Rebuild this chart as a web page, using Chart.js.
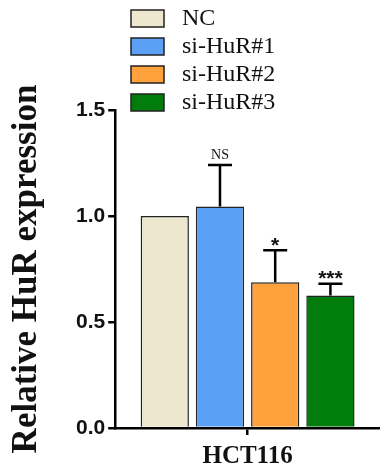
<!DOCTYPE html>
<html>
<head>
<meta charset="utf-8">
<script src="https://cdn.jsdelivr.net/npm/chart.js@4"></script>
<style>
  html, body { margin: 0; padding: 0; background: #fff; }
  #wrap { width: 380px; height: 473px; }
</style>
</head>
<body>
<div id="wrap"><canvas id="chart"></canvas></div>
<script>
const categories = ['HCT116'];
const groups = ['NC', 'si-HuR#1', 'si-HuR#2', 'si-HuR#3'];
const means = [1.0, 1.045, 0.688, 0.625];
const errors = [0, 0.195, 0.15, 0.055];
const marks = ['', 'NS', '*', '***'];
const yTicks = [0, 0.5, 1.0, 1.5];

const colors = ['#ECE7CE', '#5AA0F5', '#FFA13D', '#017D0E'];

// legend box stacked above the plot
const legendPlugin = {
    id: 'stackLegend',
    afterDraw(chart) {
        const ctx = chart.ctx;
        ctx.save();
        chart.data.datasets.forEach(function(ds, i) {
            const y = 10 + i * 28;
            ctx.fillStyle = ds.backgroundColor;
            ctx.strokeStyle = '#222';
            ctx.lineWidth = 1.5;
            ctx.fillRect(131, y, 33, 17);
            ctx.strokeRect(131, y, 33, 17);
            ctx.fillStyle = '#111';
            ctx.font = '24px "Liberation Serif", serif';
            ctx.textBaseline = 'middle';
            ctx.textAlign = 'left';
            ctx.fillText(ds.label, 182, y + 9);
        });
        ctx.restore();
    }
};

// error bars and significance marks
const errorPlugin = {
    id: 'errorBars',
    afterDatasetsDraw(chart) {
        const ctx = chart.ctx;
        const yScale = chart.scales.y;
        ctx.save();
        chart.data.datasets.forEach(function(ds, i) {
            const bar = chart.getDatasetMeta(i).data[0];
            const top = yScale.getPixelForValue(means[i] + errors[i]);
            if (errors[i] > 0) {
                ctx.strokeStyle = '#000';
                ctx.lineWidth = 2.5;
                ctx.beginPath();
                ctx.moveTo(bar.x, bar.y);
                ctx.lineTo(bar.x, top);
                ctx.moveTo(bar.x - 12, top);
                ctx.lineTo(bar.x + 12, top);
                ctx.stroke();
            }
            if (marks[i]) {
                ctx.fillStyle = '#111';
                ctx.textAlign = 'center';
                ctx.textBaseline = 'bottom';
                if (marks[i] === 'NS') {
                    ctx.font = '14px "Liberation Serif", serif';
                    ctx.fillText(marks[i], bar.x, top - 3);
                } else {
                    ctx.font = 'bold 21px "Liberation Sans", sans-serif';
                    ctx.fillText(marks[i], bar.x, top + 6);
                }
            }
        });
        ctx.restore();
    }
};

const ctx = document.getElementById('chart').getContext('2d');
new Chart(ctx, {
    type: 'bar',
    data: {
        labels: categories,
        datasets: groups.map(function(g, i) {
            return {
                label: g,
                data: [means[i]],
                backgroundColor: colors[i],
                borderColor: '#222',
                borderWidth: 1.5,
                categoryPercentage: 0.834,
                barPercentage: 0.874
            };
        })
    },
    options: {
        responsive: true,
        maintainAspectRatio: false,
        animation: false,
        layout: { padding: { top: 110, left: 6, right: 0, bottom: -6 } },
        plugins: {
            legend: { display: false },
            tooltip: { enabled: false }
        },
        scales: {
            x: {
                grid: { display: true, drawOnChartArea: false, offset: false, tickLength: 7, lineWidth: 2.5, color: '#000' },
                border: { display: true, color: '#000', width: 2.5 },
                ticks: { color: '#111', font: { family: '"Liberation Serif", serif', size: 25, weight: 'bold' }, padding: 7 }
            },
            y: {
                min: 0,
                max: 1.5,
                afterBuildTicks(axis) {
                    axis.ticks = yTicks.map(function(v) { return { value: v }; });
                },
                grid: { display: true, drawOnChartArea: false, tickLength: 7, lineWidth: 2.5, color: '#000' },
                border: { display: true, color: '#000', width: 2.5 },
                ticks: {
                    color: '#111',
                    padding: 3,
                    font: { family: '"Liberation Sans", sans-serif', size: 21, weight: 'bold' },
                    callback: function(v) { return Number(v).toFixed(1); }
                },
                title: {
                    display: true,
                    text: 'Relative HuR expression',
                    color: '#111',
                    font: { family: '"Liberation Serif", serif', size: 35, weight: 'bold' },
                    padding: { top: 0, bottom: 25 }
                }
            }
        }
    },
    plugins: [legendPlugin, errorPlugin]
});
</script>
</body>
</html>
